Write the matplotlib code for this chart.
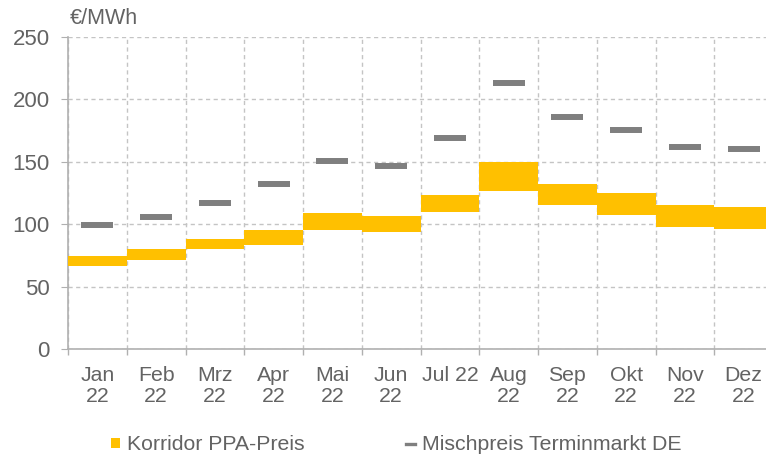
import matplotlib
matplotlib.use("Agg")
import matplotlib.pyplot as plt
import numpy as np
from matplotlib.patches import Patch
from matplotlib.lines import Line2D

plt.rcParams['font.family'] = ['Liberation Sans', 'DejaVu Sans']

monate = ["Jan\n22", "Feb\n22", "Mrz\n22", "Apr\n22", "Mai\n22", "Jun\n22",
          "Jul 22", "Aug\n22", "Sep\n22", "Okt\n22", "Nov\n22", "Dez\n22"]
korridor_unten = [66.5, 71.5, 80, 83, 95.5, 93.5, 110, 127, 115, 107.5, 97.5, 96]
korridor_oben = [74.5, 80.5, 88, 95.5, 109, 106.5, 123.5, 150, 132.5, 125, 115.5, 113.5]
mischpreis = [99.5, 106, 117, 132, 150.5, 146.5, 169, 213.5, 185.5, 175.5, 162, 160.5]

gelb = "#FFC000"
grau = "#7F7F7F"
txt = "#636363"
gitter = "#C4C4C4"

fig = plt.figure(figsize=(7.66, 4.59), dpi=100)
ax = fig.add_axes([68/766, 110/459, 705/766, 312/459])

x = np.arange(len(monate))
hoehe = np.array(korridor_oben) - np.array(korridor_unten)
ax.bar(x, hoehe, bottom=korridor_unten, width=1.0, color=gelb, zorder=3)
ax.plot(x, mischpreis, linestyle='none', marker='_', markersize=23,
        markeredgewidth=4.3, color=grau, zorder=4)

ax.set_xlim(-0.5, len(monate) - 0.5)
ax.set_ylim(0, 250)
ax.set_yticks([0, 50, 100, 150, 200, 250])
ax.set_xticks(x)
ax.set_xticklabels(monate, fontsize=15.3, color=txt, va='top', linespacing=1.13)
ax.set_xticks(np.arange(len(monate) + 1) - 0.5, minor=True)
ax.tick_params(axis='x', which='major', length=0, pad=12)
ax.tick_params(axis='x', which='minor', length=4, color='#B0B0B0', width=1)
ax.tick_params(axis='y', labelsize=16, labelcolor=txt, length=5,
               color='#B0B0B0', pad=8)

ax.grid(axis='y', which='major', linestyle=(0, (3, 2.5)), color=gitter, linewidth=1, zorder=0)
ax.grid(axis='x', which='minor', linestyle=(0, (3, 2.5)), color=gitter, linewidth=1, zorder=0)
ax.grid(axis='x', which='major', visible=False)

for s in ['top', 'right']:
    ax.spines[s].set_visible(False)
for s in ['left', 'bottom']:
    ax.spines[s].set_color('#B0B0B0')
    ax.spines[s].set_linewidth(1.2)

fig.text(70/766, 1 - 18/459, "€/MWh", fontsize=15.5, color=txt, va='center', ha='left')

griffe = [Patch(facecolor=gelb, edgecolor='none'),
          Line2D([], [], color=grau, linewidth=2.4, linestyle='-')]
fig.legend(griffe, ["Korridor PPA-Preis", "Mischpreis Terminmarkt DE"],
           loc='center left', bbox_to_anchor=(111/766, 1 - 445/459), ncol=2,
           frameon=False, fontsize=15.3, labelcolor=txt,
           handlelength=0.4, handleheight=0.4, handletextpad=0.33,
           columnspacing=4.8, borderaxespad=0, borderpad=0)

fig.savefig("out.png", dpi=100)
